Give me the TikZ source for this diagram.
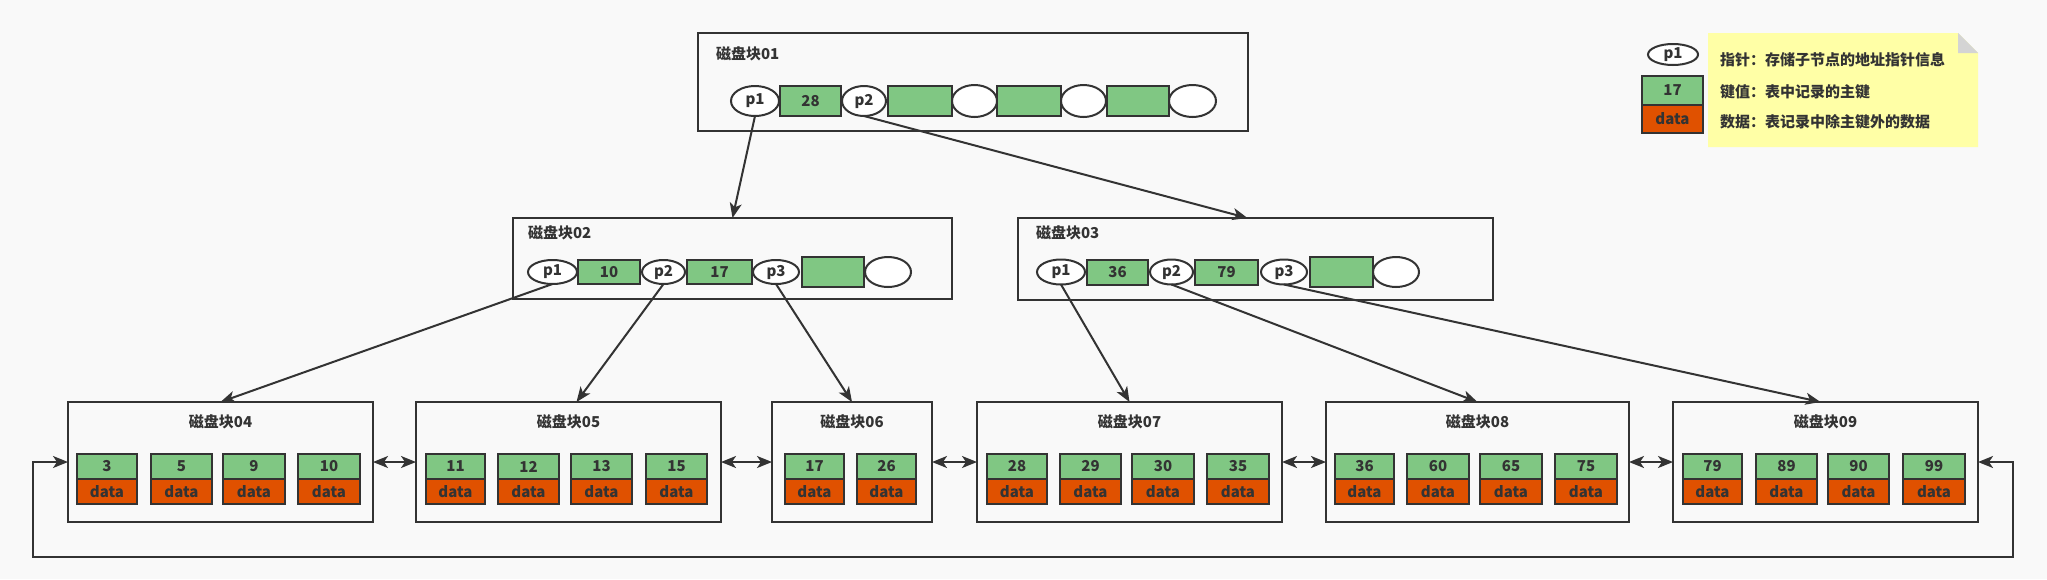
\documentclass[tikz,border=0pt]{standalone}
\usepackage{fontspec}
\setmainfont{Noto Sans CJK SC}
\usetikzlibrary{arrows.meta,shapes.geometric}
\definecolor{bgc}{RGB}{249,249,249}
\definecolor{ln}{RGB}{51,51,51}
\definecolor{kg}{RGB}{128,199,131}
\definecolor{dr}{RGB}{224,81,0}
\definecolor{notec}{RGB}{255,255,166}
\definecolor{foldc}{RGB}{212,212,212}
\newcommand{\kd}[4]{%
  \node[kbox, minimum width={(#3-#2)*1pt}, minimum height=25pt] (#1k) at ({(#2+#3)/2},466.5) {#4};
  \node[dbox, minimum width={(#3-#2)*1pt}, minimum height=25pt] (#1d) at ({(#2+#3)/2},491.5) {data};}
\begin{document}
\begin{tikzpicture}[x=1pt,y=-1pt,
  every node/.style={font=\fontsize{15}{18}\selectfont\bfseries, text=ln, inner sep=0pt, outer sep=0pt},
  blk/.style={draw=ln, line width=2pt, rectangle},
  kbox/.style={draw=ln, line width=2pt, fill=kg, rectangle},
  dbox/.style={draw=ln, line width=2pt, fill=dr, rectangle},
  pell/.style={draw=ln, line width=2pt, fill=white, ellipse},
  tip/.tip={Stealth[length=15pt,width=12pt,inset=4pt]},
  arr/.style={draw=ln, line width=2pt, -tip},
  darr/.style={draw=ln, line width=2pt, tip-tip}
]
\useasboundingbox (0,0) rectangle (2047,579);
\fill[bgc] (0,0) rectangle (2047,579);

% ---- block 01
\node[blk, minimum width=550pt, minimum height=98pt] (b1) at (973,82) {};
\node[anchor=west] (t1) at (716,54) {磁盘块01};
\node[pell, minimum width=48pt, minimum height=30pt] (a1) at (755,101) {p1};
\node[kbox, minimum width=61pt, minimum height=30pt] (a2) at (810.5,101) {28};
\node[pell, minimum width=44pt, minimum height=30pt] (a3) at (864,101) {p2};
\node[kbox, minimum width=64pt, minimum height=30pt] (a4) at (920,101) {};
\node[pell, minimum width=45pt, minimum height=32pt] (a5) at (974.5,101) {};
\node[kbox, minimum width=64pt, minimum height=30pt] (a6) at (1029,101) {};
\node[pell, minimum width=45pt, minimum height=32pt] (a7) at (1083.5,101) {};
\node[kbox, minimum width=62pt, minimum height=30pt] (a8) at (1138,101) {};
\node[pell, minimum width=47pt, minimum height=32pt] (a9) at (1192.5,101) {};

% ---- block 02
\node[blk, minimum width=439pt, minimum height=81pt] (b2) at (732.5,258.5) {};
\node[anchor=west] (t2) at (528,233) {磁盘块02};
\node[pell, minimum width=49pt, minimum height=24pt] (c1) at (552.5,272) {p1};
\node[kbox, minimum width=62pt, minimum height=24pt] (c2) at (609,272) {10};
\node[pell, minimum width=43pt, minimum height=24pt] (c3) at (663.5,272) {p2};
\node[kbox, minimum width=65pt, minimum height=24pt] (c4) at (719.5,272) {17};
\node[pell, minimum width=46pt, minimum height=24pt] (c5) at (776,272) {p3};
\node[kbox, minimum width=62pt, minimum height=30pt] (c6) at (833,272) {};
\node[pell, minimum width=46pt, minimum height=30pt] (c7) at (888,272) {};

% ---- block 03
\node[blk, minimum width=475pt, minimum height=82pt] (b3) at (1255.5,259) {};
\node[anchor=west] (t3) at (1036,233) {磁盘块03};
\node[pell, minimum width=48pt, minimum height=25pt] (d1) at (1061,272) {p1};
\node[kbox, minimum width=61pt, minimum height=25pt] (d2) at (1117.5,272) {36};
\node[pell, minimum width=43pt, minimum height=25pt] (d3) at (1171.5,272) {p2};
\node[kbox, minimum width=63pt, minimum height=25pt] (d4) at (1226.5,272) {79};
\node[pell, minimum width=46pt, minimum height=25pt] (d5) at (1284,272) {p3};
\node[kbox, minimum width=63pt, minimum height=30pt] (d6) at (1341.5,272) {};
\node[pell, minimum width=46pt, minimum height=30pt] (d7) at (1396,272) {};

% ---- leaf blocks
\node[blk, minimum width=305pt, minimum height=120pt] (b4) at (220.5,462) {};
\node[blk, minimum width=305pt, minimum height=120pt] (b5) at (568.5,462) {};
\node[blk, minimum width=160pt, minimum height=120pt] (b6) at (852,462) {};
\node[blk, minimum width=305pt, minimum height=120pt] (b7) at (1129.5,462) {};
\node[blk, minimum width=303pt, minimum height=120pt] (b8) at (1477.5,462) {};
\node[blk, minimum width=305pt, minimum height=120pt] (b9) at (1825.5,462) {};
\node (t4) at (220.5,422) {磁盘块04};
\node (t5) at (568.5,422) {磁盘块05};
\node (t6) at (852,422) {磁盘块06};
\node (t7) at (1129.5,422) {磁盘块07};
\node (t8) at (1477.5,422) {磁盘块08};
\node (t9) at (1825.5,422) {磁盘块09};

\kd{e1}{77}{137}{3}
\kd{e2}{151}{212}{5}
\kd{e3}{223}{285}{9}
\kd{e4}{298}{360}{10}
\kd{f1}{426}{485}{11}
\kd{f2}{498}{559}{12}
\kd{f3}{571}{632}{13}
\kd{f4}{646}{707}{15}
\kd{g1}{785}{844}{17}
\kd{g2}{857}{916}{26}
\kd{h1}{987}{1047}{28}
\kd{h2}{1060}{1121}{29}
\kd{h3}{1132}{1194}{30}
\kd{h4}{1207}{1269}{35}
\kd{i1}{1335}{1394}{36}
\kd{i2}{1407}{1469}{60}
\kd{i3}{1480}{1542}{65}
\kd{i4}{1555}{1617}{75}
\kd{j1}{1683}{1742}{79}
\kd{j2}{1756}{1817}{89}
\kd{j3}{1828}{1889}{90}
\kd{j4}{1903}{1965}{99}

% ---- pointer arrows
\draw[arr] (a1.south) -- (b2.north);
\draw[arr] (a3.south) -- ([xshift=-8pt]b3.north);
\draw[arr] (c1.south) -- (b4.north);
\draw[arr] (c3.south) -- ([xshift=8pt]b5.north);
\draw[arr] (c5.south) -- (b6.north);
\draw[arr] (d1.south) -- (b7.north);
\draw[arr] (d3.south) -- (b8.north);
\draw[arr] (d5.south) -- ([xshift=-5pt]b9.north);

% ---- sibling links
\draw[darr] (b4.east) -- (b5.west);
\draw[darr] (b5.east) -- (b6.west);
\draw[darr] (b6.east) -- (b7.west);
\draw[darr] (b7.east) -- (b8.west);
\draw[darr] (b8.east) -- (b9.west);
\coordinate (lpA) at (33,557);
\coordinate (lpB) at (2013,557);
\draw[darr] (b4.west) -| (lpA) -- (lpB) |- (b9.east);

% ---- legend
\fill[notec] (1708,33) -- (1958,33) -- (1978,53) -- (1978,147) -- (1708,147) -- cycle;
\fill[foldc] (1958,33) -- (1978,53) -- (1958,53) -- cycle;
\node[pell, minimum width=50pt, minimum height=21pt] (lp) at (1673,54.5) {p1};
\node[kbox, minimum width=61pt, minimum height=29pt] (lk) at (1672.5,90.5) {17};
\node[dbox, minimum width=61pt, minimum height=28pt] (ld) at (1672.5,119) {data};
\node[anchor=west] (n1) at (1720,60) {指针：存储子节点的地址指针信息};
\node[anchor=west] (n2) at (1720,92) {键值：表中记录的主键};
\node[anchor=west] (n3) at (1720,122) {数据：表记录中除主键外的数据};
\end{tikzpicture}
\end{document}
